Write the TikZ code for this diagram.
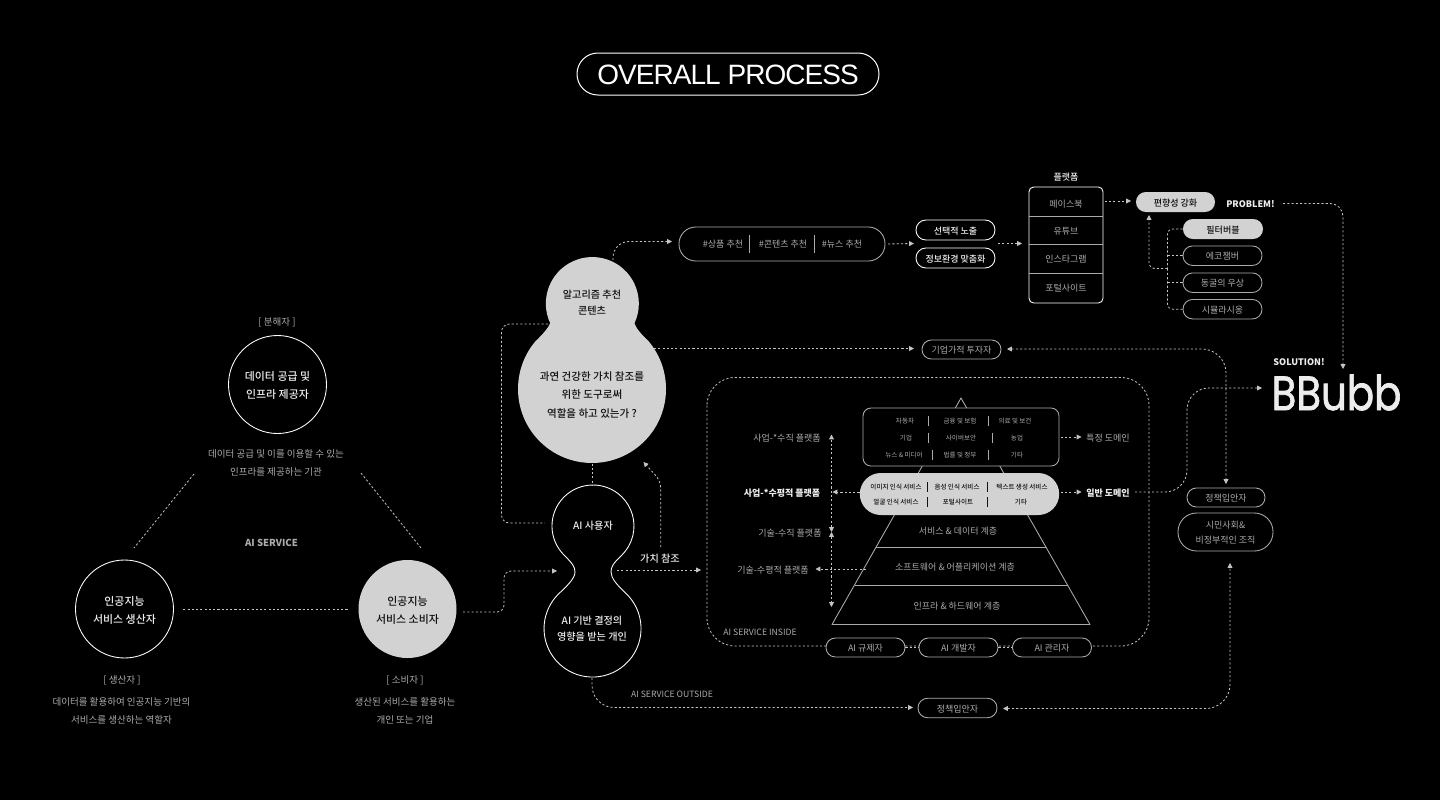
\documentclass[tikz,border=0pt]{standalone}
\usepackage{fontspec}
\setmainfont{Noto Sans CJK KR}
\newfontfamily\medf{Noto Sans CJK KR Medium}
\newfontfamily\titlef[LetterSpace=-3.4]{Liberation Sans}
\newfontfamily\logof[FakeBold=1.6]{Poppins}
\usetikzlibrary{arrows.meta}
\definecolor{lite}{HTML}{D2D2D2}
\definecolor{gtx}{HTML}{ABABAB}
\definecolor{btx}{HTML}{EDEDED}
\definecolor{lnc}{HTML}{C4C4C4}
\definecolor{plc}{HTML}{ABABAB}
\definecolor{dkt}{HTML}{111111}
\tikzset{
  pill/.style n args={2}{draw=plc,line width=0.65pt,fill=black,inner sep=0pt,minimum width=#1*0.75pt,minimum height=#2*0.75pt,rounded corners=#2*0.37pt,text height=6.5pt,text depth=0.2pt},
  circ/.style={circle,inner sep=0pt,minimum size=73.5pt},
  t11/.style={font=\medf\fontsize{8.2}{13.5}\selectfont,text=btx,align=center,inner sep=0pt,yshift=-0.7pt},
  t11d/.style={t11,text=dkt},
  t10/.style={font=\medf\fontsize{7.6}{12}\selectfont,text=btx,align=center,inner sep=0pt,yshift=-0.7pt},
  t10d/.style={font=\medf\fontsize{7.9}{13.7}\selectfont,text=dkt,align=center,inner sep=0pt,yshift=-0.7pt},
  dsc/.style={font=\fontsize{7.15}{13.5}\selectfont,text=gtx,align=center,inner sep=0pt,yshift=-0.7pt},
  lab/.style={font=\fontsize{6.75}{11}\selectfont,text=gtx,align=center,inner sep=0pt,yshift=-0.7pt},
  plab/.style={font=\fontsize{6.75}{11}\selectfont,text=gtx},
  plabw/.style={font=\medf\fontsize{6.75}{11}\selectfont,text=btx},
  labw/.style={font=\medf\fontsize{6.75}{11}\selectfont,text=btx,align=center,inner sep=0pt,yshift=-0.7pt},
  labb/.style={font=\bfseries\fontsize{6.75}{11}\selectfont,text=btx,inner sep=0pt,yshift=-0.7pt},
  smal/.style={font=\fontsize{6.5}{9}\selectfont,text=gtx,inner sep=0pt,yshift=-0.7pt},
  tiny/.style={font=\fontsize{4.9}{6}\selectfont,text=gtx,inner sep=0pt},
  tinyd/.style={font=\medf\fontsize{4.9}{6}\selectfont,text=dkt,inner sep=0pt},
  ln/.style={draw=plc,line width=0.65pt,line join=round},
  dsh/.style={draw=lnc,line width=0.6pt,dash pattern=on 1.6pt off 1.6pt},
  ar/.style={dsh,-{Triangle[length=3.6pt,width=3.6pt,fill=lnc]}},
  arb/.style={dsh,{Triangle[length=3.6pt,width=3.6pt,fill=lnc]}-{Triangle[length=3.6pt,width=3.6pt,fill=lnc]}},
  rc/.style={rounded corners=#1*0.75pt},
}
\begin{document}
\begin{tikzpicture}[x=0.75pt,y=-0.75pt]
\fill[black] (0,0) rectangle (1440,800);
\useasboundingbox (0,0) rectangle (1440,800);

% title
\node[draw=white,line width=0.75pt,inner sep=0pt,minimum width=226.5pt,minimum height=31.5pt,rounded corners=15.7pt,text height=15.5pt,text depth=0pt,font=\titlef\fontsize{21}{26}\selectfont,text=white] (title) at (728,74) {OVERALL PROCESS};

% left triangle
\node[circ,draw=white,line width=0.65pt] (dec) at (277.5,384.5) {};
\node[t11] (decL) at (277.5,384.5) {데이터 공급 및\\인프라 제공자};
\node[circ,draw=white,line width=0.65pt] (pro) at (124.5,609) {};
\node[t11] (proL) at (124.5,609) {인공지능\\서비스 생산자};
\node[circ,fill=lite] (con) at (407.5,609) {};
\node[t11d] (conL) at (407.5,609) {인공지능\\서비스 소비자};
\node[dsc] (decT) at (277,321) {[ 분해자 ]};
\node[dsc] (decD) at (276,462) {데이터 공급 및 이를 이용할 수 있는\\인프라를 제공하는 기관};
\node[dsc] (proT) at (122,679) {[ 생산자 ]};
\node[dsc] (proD) at (121.5,710) {데이터를 활용하여 인공지능 기반의\\서비스를 생산하는 역할자};
\node[dsc] (conT) at (405,679) {[ 소비자 ]};
\node[dsc] (conD) at (405,710) {생산된 서비스를 활용하는\\개인 또는 기업};
\node[font=\bfseries\fontsize{7.2}{9}\selectfont,text=gtx,inner sep=0pt] (svc) at (271.5,543) {AI SERVICE};
\coordinate (ta1) at (194,474); \coordinate (ta2) at (134,548);
\coordinate (tb1) at (361,473); \coordinate (tb2) at (421,548);
\draw[dsh] (ta1) -- (ta2);
\draw[dsh] (tb1) -- (tb2);
\draw[dsh,shorten <=7pt,shorten >=7pt] (pro.east) -- (con.west);

% upper blob
\fill[lite] (550.2,323.2) arc[start angle=155,end angle=385,radius=46.5]
  .. controls (636,328) and (640,333) .. (648.7,341.4)
  arc[start angle=-40,end angle=220,radius=74]
  .. controls (544,333) and (548,328) .. cycle;
\node[t10d,font=\medf\fontsize{7.6}{12}\selectfont] (alg) at (592,302) {알고리즘 추천\\콘텐츠};
\node[t10d] (ask) at (592,394) {과연 건강한 가치 참조를\\위한 도구로써\\역할을 하고 있는가 ?};

% lower blob
\draw[draw=white,line width=0.65pt] (564.5,555.5) arc[start angle=134,end angle=406,radius=41]
  .. controls (613,563.5) and (611,567) .. (611,572)
  .. controls (611,578) and (617,585) .. (625,592.5)
  arc[start angle=-48,end angle=228,radius=48.5]
  .. controls (568,585) and (575,578) .. (575,572)
  .. controls (575,567) and (572.5,563.5) .. cycle;
\node[t10] (usr) at (593,525) {AI 사용자};
\node[t10] (ind) at (592,628) {AI 기반 결정의\\영향을 받는 개인};
\node[t10] (val) at (660,558) {가치 참조};

% outer dashed frame
\draw[dsh,rounded corners=21pt] (707,377.5) rectangle (1149,646);
\node[smal] (insd) at (760,631) {AI SERVICE INSIDE};
\node[smal] (outs) at (672,693) {AI SERVICE OUTSIDE};

% pyramid
\draw[ln] (961,398) -- (1090,624.5) -- (832,624.5) -- cycle;
\draw[ln] (876,547.5) -- (1046,547.5);
\draw[ln] (855,585) -- (1068,585);
\node[lab] (l1) at (958,530) {서비스 \& 데이터 계층};
\node[lab] (l2) at (955,566) {소프트웨어 \& 어플리케이션 계층};
\node[lab] (l3) at (957,605) {인프라 \& 하드웨어 계층};

% top domain box
\node[draw=plc,line width=0.65pt,fill=black,rounded corners=6pt,minimum width=147pt,minimum height=43.5pt,inner sep=0pt] (dom) at (961,437) {};
\foreach \nm/\tx/\x/\y in {a/자동차/905/421,b/금융 및 보험/960/421,c/의료 및 보건/1015/421,d/기업/906/438,e/사이버보안/961/438,f/농업/1017/438,g/뉴스 \& 미디어/904/455,h/법률 및 정부/960/455,i/기타/1017/455}
  \node[tiny] (dom\nm) at (\x,\y) {\tx};
\foreach \x/\y in {928/421,988/421,928/438,992/438,932/455,988/455}
  \draw[draw=plc,line width=0.5pt] (\x,\y-5) -- (\x,\y+5);

% middle service box
\node[fill=lite,rounded corners=15.7pt,minimum width=149.5pt,minimum height=31.5pt,inner sep=0pt] (srv) at (959.5,494) {};
\foreach \nm/\tx/\x/\y in {a/이미지 인식 서비스/896/487,b/음성 인식 서비스/957/487,c/텍스트 생성 서비스/1022/487,d/얼굴 인식 서비스/896/502,e/포털사이트/958/502,f/기타/1021/502}
  \node[tinyd] (srv\nm) at (\x,\y) {\tx};
\foreach \x/\y in {927/487,987/487,927/502,987/502}
  \draw[draw=dkt,line width=0.5pt] (\x,\y-5) -- (\x,\y+5);

% pyramid labels
\node[lab] (p1) at (787,437) {사업-*수직 플랫폼};
\node[labb] (p2) at (782,492) {사업-*수평적 플랫폼};
\node[lab] (p3) at (790,532) {기술-수직 플랫폼};
\node[lab] (p4) at (773,569) {기술-수평적 플랫폼};
\node[lab] (d1) at (1108,437) {특정 도메인};
\node[labb] (d2) at (1108,492) {일반 도메인};
\coordinate (vt) at (831.5,434.5); \coordinate (vm) at (831.5,532); \coordinate (vb) at (831.5,607);
\coordinate (vmu) at (831.5,527); \coordinate (vmd) at (831.5,537);
\draw[ar] (vmu) -- (vt);
\draw[ar] (vmd) -- (vb);
\draw[ar] (vmu) -- (vm);
\draw[ar] (vmd) -- (vm);
\coordinate (srvL) at (srv.west |- 0,492);
\coordinate (srvR) at (srv.east |- 0,492);
\coordinate (domR) at (dom.east);
\coordinate (l2L) at (866,569);
\coordinate (p4R) at (815.5,569);
\draw[ar] (srvL) -- (832.5,492);
\draw[ar,shorten <=1pt] (domR) -- (1081.5,437);
\draw[ar,shorten <=1pt] (srvR) -- (1081.5,492);
\draw[ar] (l2L) -- (p4R);

% actors row
\node[pill={79}{19},plab] (reg) at (865.5,647.5) {AI 규제자};
\node[pill={79}{19},plab] (dev) at (958.5,647.5) {AI 개발자};
\node[pill={79}{19},plab] (mgr) at (1052,647.5) {AI 관리자};
\draw[dsh] (reg) -- (dev);
\draw[dsh] (dev) -- (mgr);
\node[pill={79}{19.5},plab] (pol) at (957.5,708) {정책입안자};
\node[pill={79}{19},plab] (inv) at (961.5,349.5) {기업가적 투자자};
\node[pill={78}{19},plab] (polr) at (1226,497.5) {정책입안자};
\node[draw=plc,line width=0.65pt,inner sep=0pt,minimum width=71.25pt,minimum height=28.5pt,rounded corners=14pt] (civ) at (1225.5,532) {};
\node[lab,font=\fontsize{6.75}{11.2}\selectfont] (civL) at (1225.5,532) {시민사회\&\\비정부적인 조직};

% recommendation row
\node[pill={206}{34}] (rec) at (782,244) {};
\node[lab] (r1) at (723,243.5) {\#상품 추천};
\node[lab] (r2) at (783,243.5) {\#콘텐츠 추천};
\node[lab] (r3) at (842,243.5) {\#뉴스 추천};
\draw[draw=plc,line width=0.6pt] (749,235) -- (749,252.5);
\draw[draw=plc,line width=0.6pt] (814,235) -- (814,252.5);
\node[pill={79}{20},draw=white,plabw] (sel) at (955.5,230) {선택적 노출};
\node[pill={79}{20},draw=white,plabw] (fit) at (955.5,258) {정보환경 맞춤화};
\coordinate (recOut) at (914,243.5);
\coordinate (selOut) at (998,243.5);
\coordinate (plfIn) at (1022,243.5);
\draw[ar,shorten <=2pt] (rec.east) -- (recOut);
\draw[ar] (selOut) -- (plfIn);

% platform table
\node[draw=white,line width=0.65pt,rounded corners=3.5pt,minimum width=55.5pt,minimum height=87pt,inner sep=0pt] (plf) at (1066,245) {};
\draw[ln] (plf.west |- 0,216) -- (plf.east |- 0,216);
\draw[ln] (plf.west |- 0,244.5) -- (plf.east |- 0,244.5);
\draw[ln] (plf.west |- 0,273.5) -- (plf.east |- 0,273.5);
\node[labw] (plfT) at (1066,176) {플랫폼};
\node[lab] (pa) at (1066,203) {페이스북};
\node[lab] (pb) at (1066,230) {유튜브};
\node[lab] (pc) at (1066,258) {인스타그램};
\node[lab] (pd) at (1066,287) {포털사이트};

% bias
\node[pill={79}{20},draw=none,fill=lite,font=\medf\fontsize{6.75}{9}\selectfont,text=dkt] (bia) at (1175.5,202) {편향성 강화};
\node[pill={80}{20},draw=none,fill=lite,font=\medf\fontsize{6.75}{9}\selectfont,text=dkt] (fb) at (1223,229) {필터버블};
\node[pill={79}{19.5},plab] (ec) at (1222.5,255.7) {에코챔버};
\node[pill={79}{19.5},plab] (ca) at (1222.5,282.7) {동굴의 우상};
\node[pill={79}{19.5},plab] (si) at (1222.5,309.2) {시뮬라시옹};
\coordinate (plfOut) at (1131,201);
\draw[ar,shorten <=1pt] (plf.east |- plfOut) -- (plfOut);
\node[labb] (prob) at (1250.5,203.5) {PROBLEM!};
\node[labb] (solu) at (1299,361) {SOLUTION!};
\node[font=\logof\fontsize{36}{36}\selectfont,text=btx,inner sep=0pt] (logo) at (1336.5,392.5) {\scalebox{.84}[1]{BBubb}};
\coordinate (tr) at (1167.5,268.5);
\coordinate (bt) at (1149,215);
\draw[dsh,rc=5] (fb.west) -| (tr);
\draw[dsh,rc=5] (si.west) -| (tr);
\draw[dsh] (ec.west) -- (ec.west -| tr);
\draw[dsh] (ca.west) -- (ca.west -| tr);
\draw[ar,rc=6] (tr) -| (bt);
\coordinate (probOut) at (1283,203.5);
\coordinate (probCr) at (1343,203.5);
\coordinate (probTo) at (1343,369);
\draw[ar,rc=13] (probOut) -- (probCr) -- (probTo);

% routed connectors
\coordinate (b1) at (613,260); \coordinate (b1a) at (613,241.5); \coordinate (b1b) at (672,241.5);
\draw[ar,rc=16] (b1) -- (b1a) -- (b1b);
\coordinate (b2) at (654,348.5);
\draw[ar] (b2) -- (914,348.5);
\coordinate (b3) at (548,324); \coordinate (b3a) at (501.5,324); \coordinate (b3b) at (501.5,523); \coordinate (b3c) at (545,523);
\draw[dsh,rc=8] (b3) -- (b3a) -- (b3b) -- (b3c);
\coordinate (b4) at (592,463.5);
\draw[dsh] (b4) -- (592,485);
\coordinate (c1) at (463,612); \coordinate (c1a) at (504,612); \coordinate (c1b) at (504,571); \coordinate (c1c) at (557,571);
\draw[ar,rc=7] (c1) -- (c1a) -- (c1b) -- (c1c);
\coordinate (v1) at (617,570);
\draw[ar] (v1) -- (701,570);
\coordinate (v2) at (660.7,547); \coordinate (v2a) at (660.7,481); \coordinate (v2b) at (643.5,462);
\draw[ar,rc=7] (v2) -- (v2a) -- (v2b);
\coordinate (o1) at (592,678); \coordinate (o1a) at (592,707.5); \coordinate (o1b) at (913,707.5);
\draw[ar,rc=22] (o1) -- (o1a) -- (o1b);
\coordinate (o2) at (1003,708.5); \coordinate (o2a) at (1230,708.5); \coordinate (o2b) at (1230,563);
\draw[arb,rc=24] (o2) -- (o2a) -- (o2b);
\coordinate (i1) at (1007,349); \coordinate (i1a) at (1226,349); \coordinate (i1b) at (1226,484);
\draw[arb,rc=24] (i1) -- (i1a) -- (i1b);
\coordinate (s1) at (1135,492); \coordinate (s1a) at (1187,492); \coordinate (s1b) at (1187,388); \coordinate (s1c) at (1262,388);
\draw[ar,rc=22] (s1) -- (s1a) -- (s1b) -- (s1c);
\end{tikzpicture}
\end{document}
